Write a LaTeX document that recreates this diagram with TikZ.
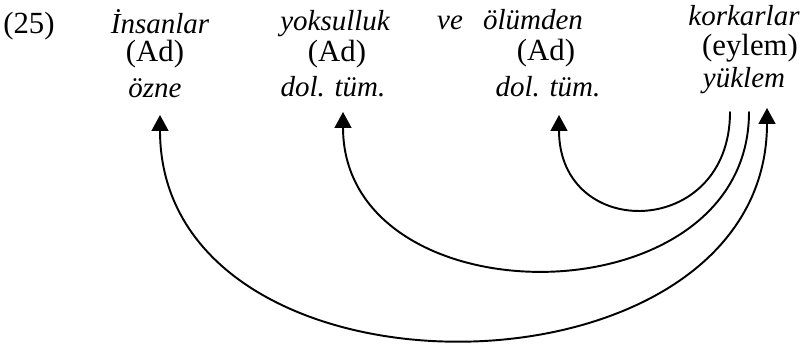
\documentclass[tikz,border=0pt]{standalone}
\usepackage{fontspec}
\setmainfont{Liberation Serif}
\usetikzlibrary{arrows.meta}

\begin{document}
\begin{tikzpicture}[
	word/.style = {anchor=base, inner sep=0pt, font=\fontsize{16.5}{19}\selectfont\itshape},
	cat/.style = {anchor=base, inner sep=0pt, font=\fontsize{17.5}{20}\selectfont},
	link/.style = {line width=1.1pt, line cap=round},
	tip/.style = {-{Triangle[width=9.5pt, length=9pt]}}
]
	\useasboundingbox (0, 0) rectangle (16.14, 7.02);
	\node (num) at (0.06, 6.34) [cat, anchor=base west] {(25)};
	% words
	\node (insanlar) at (3.20, 6.34) [word] {İnsanlar};
	\node (yoksulluk) at (6.70, 6.40) [word] {yoksulluk};
	\node (ve) at (9.00, 6.42) [word] {ve};
	\node (olumden) at (10.66, 6.42) [word] {ölümden};
	\node (korkarlar) at (14.88, 6.50) [word] {korkarlar};
	% word classes
	\node (ad1) at (3.10, 5.78) [cat] {(Ad)};
	\node (ad2) at (6.74, 5.78) [cat] {(Ad)};
	\node (ad3) at (10.92, 5.80) [cat] {(Ad)};
	\node (eylem) at (15.00, 5.90) [cat] {(eylem)};
	% functions
	\node (ozne) at (3.10, 5.06) [word] {özne};
	\node (tum1) at (6.66, 5.09) [word] {dol. tüm.};
	\node (tum2) at (10.96, 5.09) [word] {dol. tüm.};
	\node (yuklem) at (14.88, 5.27) [word] {yüklem};
	% ends of the arcs
	\coordinate (toOzne) at (3.20, 4.72);
	\coordinate (toTum1) at (6.86, 4.78);
	\coordinate (toTum2) at (11.18, 4.72);
	\coordinate (fromA) at (14.60, 4.78);
	\coordinate (fromB) at (14.98, 4.78);
	\coordinate (toYuklem) at (15.34, 4.86);
	\draw [link, tip] (fromA) to [out=-90, in=-90, looseness=1.9] (toTum2);
	\draw [link, tip] (fromB) to [out=-90, in=-90, looseness=1.33] (toTum1);
	\draw [link, {Triangle[width=9.5pt, length=9pt]}-{Triangle[width=9.5pt, length=9pt]}] (toYuklem) to [out=-90, in=-90, looseness=1.27] (toOzne);
\end{tikzpicture}
\end{document}
